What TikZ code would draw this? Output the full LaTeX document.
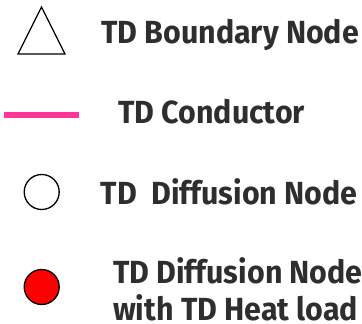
\documentclass[tikz,border=0pt]{standalone}
\usepackage{fontspec}
\setmainfont{Fira Sans}
\begin{document}
\begin{tikzpicture}[x=1pt,y=-1pt,
  lbl/.style={anchor=base west,inner sep=0pt,text=txtgray,xscale=0.95,font=\fontsize{32}{36}\selectfont\bfseries},
  sym/.style={draw=black,line width=1.3pt}]
\definecolor{txtgray}{HTML}{2E2E2E}
\definecolor{pinkc}{HTML}{FF3399}
\useasboundingbox (0,0) rectangle (362,324);
\clip (0,0) rectangle (362,324);
% boundary node
\coordinate (ta) at (41.5,7);
\coordinate (tl) at (18,54);
\coordinate (tr) at (65,54);
\draw[sym,line join=miter] (ta) -- (tl) -- (tr) -- cycle;
\node[lbl] (l1) at (101,43.3) {TD Boundary Node};
% conductor
\coordinate (ca) at (4,114.7);
\coordinate (cb) at (79,114.7);
\draw[pinkc,line width=6pt] (ca) -- (cb);
\node[lbl] (l2) at (118,123.3) {TD Conductor};
% diffusion node
\node[sym,circle,minimum size=35pt,inner sep=0pt,fill=white] (d1) at (41.7,192) {};
\node[lbl] (l3) at (100.7,204) {TD\ \ Diffusion Node};
% diffusion node with heat load
\node[sym,circle,minimum size=35pt,inner sep=0pt,fill=red] (d2) at (41.7,287) {};
\node[lbl] (l4) at (113,283.5) {TD Diffusion Node};
\node[lbl] (l5) at (113,320.5) {with TD Heat load};
\end{tikzpicture}
\end{document}
